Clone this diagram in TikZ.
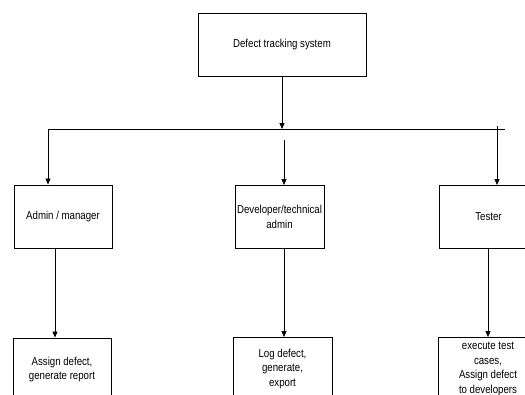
\documentclass[tikz,border=0pt]{standalone}
\usepackage{fontspec}
\setmainfont{Liberation Sans}[FakeStretch=0.84]
\usetikzlibrary{arrows.meta}
\begin{document}
\begin{tikzpicture}[x=1pt,y=-1pt,
  box/.style={draw=black, line width=0.9pt, minimum height=63pt, inner sep=0pt,
    align=center, font=\fontsize{11.5}{14.5}\selectfont},
  conn/.style={line width=0.8pt, -{Triangle[length=6pt,width=5pt]}},
  busline/.style={line width=0.9pt}]
\path[use as bounding box] (0,0) rectangle (525,394);
\clip (0,0) rectangle (525,394);
\fill[white] (0,0) rectangle (525,394);

\node[box, minimum width=168pt] (top) at (282,44.5) {Defect tracking system};
\node[box, minimum width=98pt] (adm) at (63,216.5) {Admin / manager};
\node[box, minimum width=89pt] (dev) at (279.5,217) {Developer/technical\\admin};
\node[box, minimum width=99pt] (tst) at (488.5,217) {Tester};
\node[box, minimum width=98pt] (admr) at (62,369.5) {Assign defect,\\generate report};
\node[box, minimum width=99pt] (devr) at (282.5,369) {Log defect,\\generate,\\export};
\node[box, minimum width=100pt] (tstr) at (488,369) {execute test\\cases,\\Assign defect\\to developers};

\coordinate (busL) at (48,129);
\coordinate (busR) at (505,129);
\draw[busline] (busL) -- (busR);
\draw[conn] (top.south) -- (top.south |- busL);
\draw[conn] (busL) -- (busL |- adm.north);
\coordinate (devs) at (284,140);
\draw[conn] (devs) -- (devs |- dev.north);
\coordinate (tsts) at (497,126);
\draw[conn] (tsts) -- (tsts |- tst.north);

\draw[conn] ([xshift=-8pt]adm.south) -- ([xshift=-8pt]adm.south |- admr.north);
\draw[conn] ([xshift=4.5pt]dev.south) -- ([xshift=4.5pt]dev.south |- devr.north);
\draw[conn] ([xshift=-0.5pt]tst.south) -- ([xshift=-0.5pt]tst.south |- tstr.north);
\end{tikzpicture}
\end{document}
